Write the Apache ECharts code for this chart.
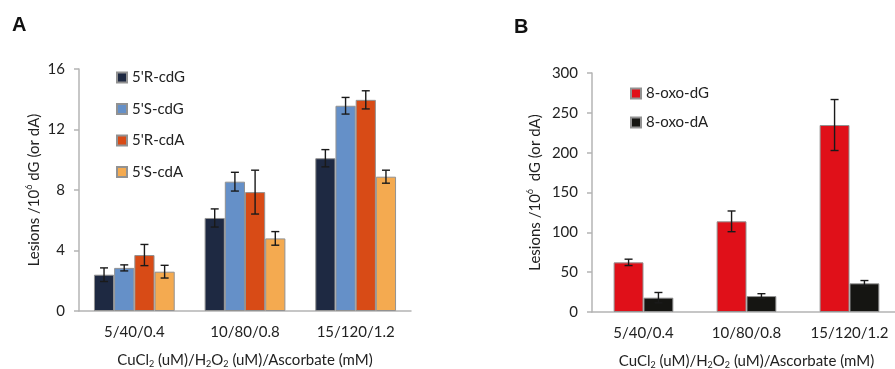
<!DOCTYPE html>
<html><head><meta charset="utf-8">
<script src="https://cdn.jsdelivr.net/npm/echarts@6/dist/echarts.min.js"></script>
<style>html,body{margin:0;padding:0;background:#fff}#c{width:895px;height:369px}</style>
</head><body><div id="c"></div>
<script>
var categories = ['5/40/0.4', '10/80/0.8', '15/120/1.2'];
var seriesA = ["5'R-cdG", "5'S-cdG", "5'R-cdA", "5'S-cdA"];
var valRcdG = [2.4, 6.15, 10.1];
var errRcdG = [0.45, 0.6, 0.57];
var valScdG = [2.85, 8.55, 13.57];
var errScdG = [0.2, 0.62, 0.55];
var valRcdA = [3.7, 7.86, 13.96];
var errRcdA = [0.7, 1.45, 0.6];
var valScdA = [2.6, 4.8, 8.88];
var errScdA = [0.42, 0.45, 0.43];
var seriesB = ['8-oxo-dG', '8-oxo-dA'];
var valOxoG = [62.3, 113.8, 234.7];
var errOxoG = [4, 13, 32];
var valOxoA = [18, 20, 36];
var errOxoA = [6.5, 3, 3.5];
var ticksA = [0, 4, 8, 12, 16];
var ticksB = [0, 50, 100, 150, 200, 250, 300];

var FONT = 'Lato';
var colorsA = ['#1e2942', '#6590c8', '#d84b16', '#f4aa50'];
var colorsB = ['#e01019', '#151512'];
var valsA = [valRcdG, valScdG, valRcdA, valScdA];
var errsA = [errRcdG, errScdG, errRcdA, errScdA];
var valsB = [valOxoG, valOxoA];
var errsB = [errOxoG, errOxoA];

function errSeries(axisIdx, vals, errs, idx, n, gapFrac) {
  var data = vals.map(function (v, i) { return [i, v, errs[i]]; });
  return {
    type: 'custom', xAxisIndex: axisIdx, yAxisIndex: axisIdx, z: 10,
    data: data, silent: true,
    renderItem: function (params, api) {
      var ci = api.value(0), v = api.value(1), e = api.value(2);
      var c = api.coord([ci, v]);
      var band = api.size([1, 0])[0];
      var gw = band * (1 - gapFrac);
      var bw = gw / n;
      var x = c[0] - gw / 2 + bw * (idx + 0.5);
      var hi = api.coord([ci, v + e])[1];
      var lo = api.coord([ci, v - e])[1];
      var cap = 4;
      var st = { stroke: '#1a1a1a', lineWidth: 1.4 };
      return { type: 'group', children: [
        { type: 'line', shape: { x1: x, y1: hi, x2: x, y2: lo }, style: st },
        { type: 'line', shape: { x1: x - cap, y1: hi, x2: x + cap, y2: hi }, style: st },
        { type: 'line', shape: { x1: x - cap, y1: lo, x2: x + cap, y2: lo }, style: st }
      ]};
    }
  };
}

var series = [];
seriesA.forEach(function (name, i) {
  series.push({ name: name, type: 'bar', xAxisIndex: 0, yAxisIndex: 0, data: valsA[i],
    barGap: '0%', barCategoryGap: '27%',
    itemStyle: { color: colorsA[i], borderColor: '#929292', borderWidth: 1 } });
});
seriesA.forEach(function (name, i) { series.push(errSeries(0, valsA[i], errsA[i], i, 4, 0.27)); });
seriesB.forEach(function (name, i) {
  series.push({ name: name, type: 'bar', xAxisIndex: 1, yAxisIndex: 1, data: valsB[i],
    barGap: '0%', barCategoryGap: '42%',
    itemStyle: { color: colorsB[i], borderColor: '#929292', borderWidth: 1 } });
});
seriesB.forEach(function (name, i) { series.push(errSeries(1, valsB[i], errsB[i], i, 2, 0.42)); });

var supRich = {
  sup: { fontSize: 9, fontFamily: FONT, color: '#222', verticalAlign: 'top', lineHeight: 18 },
  sub: { fontSize: 9, fontFamily: FONT, color: '#222', verticalAlign: 'bottom', lineHeight: 18, padding: [6, 0, 0, 0] }
};

function xAxis(gi) {
  return {
    type: 'category', gridIndex: gi, data: categories,
    axisLine: { lineStyle: { color: '#b4b4b4', width: 1.5 } },
    axisTick: { show: false },
    axisLabel: { fontFamily: FONT, fontSize: 15, color: '#222', margin: 14, interval: 0 },
    name: 'CuCl{sub|2} (uM)/H{sub|2}O{sub|2} (uM)/Ascorbate (mM)',
    nameLocation: 'middle', nameGap: 40,
    nameTextStyle: { fontFamily: FONT, fontSize: 15, color: '#222', rich: supRich }
  };
}
function yAxis(gi, max, interval, nameGap, nameStr) {
  return {
    type: 'value', gridIndex: gi, min: 0, max: max, interval: interval,
    splitLine: { show: false },
    axisLine: { show: true, lineStyle: { color: '#b4b4b4', width: 1.5 } },
    axisTick: { show: true, length: 5, lineStyle: { color: '#b4b4b4', width: 1.5 } },
    axisLabel: { fontFamily: FONT, fontSize: 15, color: '#222', margin: 14 },
    name: nameStr, nameLocation: 'middle', nameGap: nameGap, nameRotate: 90,
    nameTextStyle: { fontFamily: FONT, fontSize: 15, color: '#222', rich: supRich }
  };
}

var chart = echarts.init(document.getElementById('c'), null, { renderer: 'canvas' });
chart.setOption({
  animation: false,
  backgroundColor: '#fff',
  title: [
    { text: 'A', left: 7, top: 10, textStyle: { fontFamily: 'Liberation Sans', fontWeight: 'bold', fontSize: 20, color: '#111' } },
    { text: 'B', left: 509, top: 12, textStyle: { fontFamily: 'Liberation Sans', fontWeight: 'bold', fontSize: 20, color: '#111' } }
  ],
  grid: [
    { left: 79, top: 69, width: 332, height: 242, outerBoundsMode: 'none', containLabel: false },
    { left: 592, top: 73, width: 309, height: 239, outerBoundsMode: 'none', containLabel: false }
  ],
  legend: [
    { data: seriesA, orient: 'vertical', left: 111, top: 65, itemWidth: 10, itemHeight: 10, itemGap: 16.5, icon: 'rect',
      textStyle: { fontFamily: FONT, fontSize: 15, color: '#222' } },
    { data: seriesB, orient: 'vertical', left: 625, top: 81, itemWidth: 10, itemHeight: 10, itemGap: 14, icon: 'rect',
      textStyle: { fontFamily: FONT, fontSize: 15, color: '#222' } }
  ],
  xAxis: [xAxis(0), xAxis(1)],
  yAxis: [
    yAxis(0, ticksA[ticksA.length - 1], ticksA[1] - ticksA[0], 36, 'Lesions /10{sup|6} dG (or dA)'),
    yAxis(1, ticksB[ticksB.length - 1], ticksB[1] - ticksB[0], 48, 'Lesions /10{sup|6}  dG (or dA)')
  ],
  series: series
});
</script></body></html>
